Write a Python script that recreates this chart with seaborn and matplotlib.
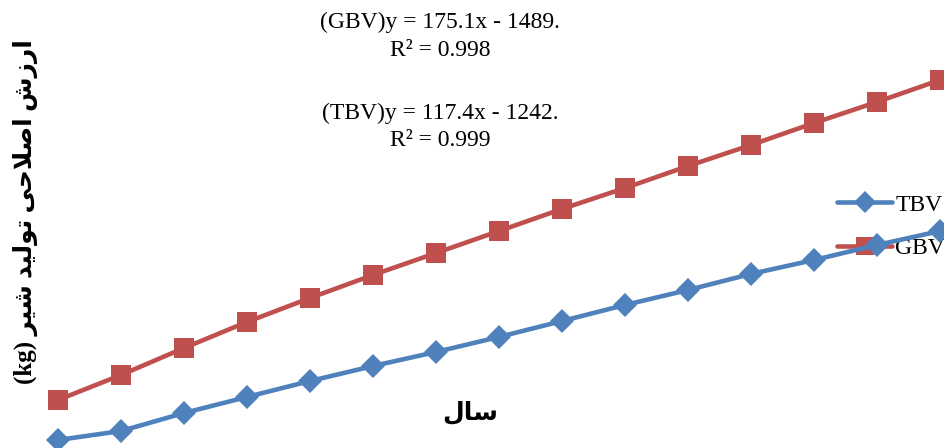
import matplotlib
matplotlib.use('Agg')
import matplotlib.pyplot as plt
import pandas as pd
import seaborn as sns

# داده‌ها (خوانده شده از تصویر)
years = list(range(1, 16))
gbv = [139, 329, 534, 732, 914, 1089, 1256, 1423, 1591, 1750, 1917, 2077, 2244, 2404, 2571]
tbv = [-165, -97, 40, 162, 283, 397, 504, 618, 739, 861, 975, 1097, 1203, 1317, 1423]
series_names = ['TBV', 'GBV']
eq_gbv = ['(GBV)y = 175.1x - 1489.', 'R\u00b2 = 0.998']
eq_tbv = ['(TBV)y = 117.4x - 1242.', 'R\u00b2 = 0.999']

# matplotlib حروف عربی را شکل‌دهی نمی‌کند؛ از فرم‌های نمایشی با ترتیب دیداری استفاده شده
# "ارزش اصلاحی تولید شیر (kg)"
ylabel_fa = ('(kg) '
             '\ufeae\ufef4\ufeb7 '
             '\ufeaa\ufef4\ufedf\ufeee\ufe97 '
             '\ufef0\ufea3\ufefc\ufebb\ufe8d '
             '\ufeb5\ufeaf\ufead\ufe8d')
# "سال"
xlabel_fa = '\ufedd\ufe8e\ufeb3'

df = pd.DataFrame({
    'year': years * 2,
    'value': tbv + gbv,
    'series': ['TBV'] * len(years) + ['GBV'] * len(years),
})

sns.set_theme(style='white')
plt.rcParams['font.family'] = ['Liberation Serif', 'DejaVu Sans']
plt.rcParams['text.color'] = 'black'

W, H = 945, 448
fig = plt.figure(figsize=(W / 100, H / 100), dpi=100)
ax = fig.add_axes([0, 0, 1, 1])

colors = {'TBV': '#4F81BD', 'GBV': '#C0504D'}
markers = {'TBV': 'D', 'GBV': 's'}
msize = {'TBV': 12.5, 'GBV': 14}
for name in series_names:
    sns.lineplot(data=df[df['series'] == name], x='year', y='value', ax=ax,
                 color=colors[name], marker=markers[name], markersize=msize[name],
                 markeredgewidth=0, linewidth=3.3, label=name, zorder=3)

# محدوده‌ها طوری که نمودار بریده شده مانند تصویر باشد
ax.set_xlim(0.079, 15.079)
ax.set_ylim(-226, 3179)
ax.axis('off')

leg = ax.legend(loc='upper left', bbox_to_anchor=(837 / W, 1 - 194 / H),
                bbox_transform=fig.transFigure, frameon=False, fontsize=17,
                handlelength=2.35, handletextpad=0.12, labelspacing=0.95,
                borderpad=0, borderaxespad=0, markerscale=0.9)
leg.set_zorder(1)

fig.text(440 / W, 1 - 22 / H, eq_gbv[0], ha='center', va='center', fontsize=17)
fig.text(440 / W, 1 - 50 / H, eq_gbv[1], ha='center', va='center', fontsize=17)
fig.text(440 / W, 1 - 113 / H, eq_tbv[0], ha='center', va='center', fontsize=17)
fig.text(440 / W, 1 - 141 / H, eq_tbv[1], ha='center', va='center', fontsize=17)

fig.text(25 / W, 1 - 212 / H, ylabel_fa, rotation=90, ha='center', va='center',
         fontsize=18, fontweight='bold')
fig.text(470 / W, 1 - 412 / H, xlabel_fa, ha='center', va='center',
         fontsize=18, fontweight='bold')

fig.savefig('out.png', dpi=100)
